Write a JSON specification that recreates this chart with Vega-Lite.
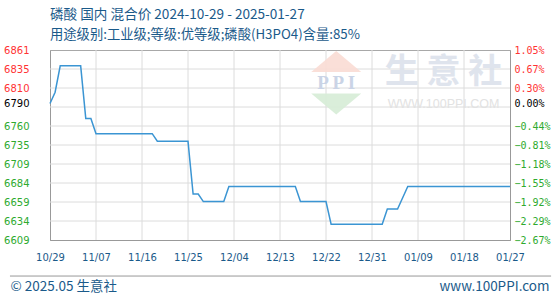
{
  "$schema": "https://vega.github.io/schema/vega-lite/v6.json",
  "width": 460,
  "height": 190,
  "autosize": {"type": "none"},
  "padding": {"left": 50, "top": 50, "right": 50, "bottom": 60},
  "background": "#ffffff",
  "title": {
    "text": "磷酸 国内 混合价 2024-10-29 - 2025-01-27",
    "subtitle": "用途级别:工业级;等级:优等级;磷酸(H3PO4)含量:85%",
    "anchor": "start",
    "frame": "group",
    "font": "Noto Sans CJK SC",
    "fontSize": 13.6,
    "fontWeight": "normal",
    "color": "#1a5a8a",
    "subtitleFont": "Noto Sans CJK SC",
    "subtitleFontSize": 13.3,
    "subtitleColor": "#1a5a8a",
    "subtitlePadding": 6,
    "offset": 4
  },
  "config": {
    "view": {"stroke": "#a8a8a8", "strokeWidth": 1},
    "axis": {
      "grid": false,
      "domainColor": "#999999",
      "ticks": false,
      "tickSize": 0
    },
    "axisX": {
      "ticks": false,
      "tickSize": 0,
      "labelFont": "DejaVu Sans",
      "labelFontSize": 10,
      "labelColor": "#1a5a8a",
      "labelPadding": 12,
      "labelFlush": false,
      "labelOverlap": false,
      "format": "%m/%d",
      "formatType": "utc"
    },
    "axisLeft": {"ticks": false, "tickSize": 0},
    "axisRight": {"grid": false, "ticks": false, "tickSize": 0}
  },
  "datasets": {
    "gridY": [
      {"v": 6634.2}, {"v": 6659.4}, {"v": 6684.6}, {"v": 6709.8}, {"v": 6735},
      {"v": 6760.2}, {"v": 6785.4}, {"v": 6810.6}, {"v": 6835.8}
    ],
    "gridX": [
      {"d": "2024-11-07"}, {"d": "2024-11-16"}, {"d": "2024-11-25"}, {"d": "2024-12-04"},
      {"d": "2024-12-13"}, {"d": "2024-12-22"}, {"d": "2024-12-31"}, {"d": "2025-01-09"},
      {"d": "2025-01-18"}
    ],
    "price": [
      {"date": "2024-10-29", "price": 6790},
      {"date": "2024-10-30", "price": 6805},
      {"date": "2024-10-31", "price": 6840},
      {"date": "2024-11-01", "price": 6840},
      {"date": "2024-11-02", "price": 6840},
      {"date": "2024-11-03", "price": 6840},
      {"date": "2024-11-04", "price": 6840},
      {"date": "2024-11-05", "price": 6770},
      {"date": "2024-11-06", "price": 6770},
      {"date": "2024-11-07", "price": 6750},
      {"date": "2024-11-08", "price": 6750},
      {"date": "2024-11-09", "price": 6750},
      {"date": "2024-11-10", "price": 6750},
      {"date": "2024-11-11", "price": 6750},
      {"date": "2024-11-12", "price": 6750},
      {"date": "2024-11-13", "price": 6750},
      {"date": "2024-11-14", "price": 6750},
      {"date": "2024-11-15", "price": 6750},
      {"date": "2024-11-16", "price": 6750},
      {"date": "2024-11-17", "price": 6750},
      {"date": "2024-11-18", "price": 6750},
      {"date": "2024-11-19", "price": 6740},
      {"date": "2024-11-20", "price": 6740},
      {"date": "2024-11-21", "price": 6740},
      {"date": "2024-11-22", "price": 6740},
      {"date": "2024-11-23", "price": 6740},
      {"date": "2024-11-24", "price": 6740},
      {"date": "2024-11-25", "price": 6740},
      {"date": "2024-11-26", "price": 6670},
      {"date": "2024-11-27", "price": 6670},
      {"date": "2024-11-28", "price": 6660},
      {"date": "2024-11-29", "price": 6660},
      {"date": "2024-11-30", "price": 6660},
      {"date": "2024-12-01", "price": 6660},
      {"date": "2024-12-02", "price": 6660},
      {"date": "2024-12-03", "price": 6680},
      {"date": "2024-12-04", "price": 6680},
      {"date": "2024-12-05", "price": 6680},
      {"date": "2024-12-06", "price": 6680},
      {"date": "2024-12-07", "price": 6680},
      {"date": "2024-12-08", "price": 6680},
      {"date": "2024-12-09", "price": 6680},
      {"date": "2024-12-10", "price": 6680},
      {"date": "2024-12-11", "price": 6680},
      {"date": "2024-12-12", "price": 6680},
      {"date": "2024-12-13", "price": 6680},
      {"date": "2024-12-14", "price": 6680},
      {"date": "2024-12-15", "price": 6680},
      {"date": "2024-12-16", "price": 6680},
      {"date": "2024-12-17", "price": 6660},
      {"date": "2024-12-18", "price": 6660},
      {"date": "2024-12-19", "price": 6660},
      {"date": "2024-12-20", "price": 6660},
      {"date": "2024-12-21", "price": 6660},
      {"date": "2024-12-22", "price": 6660},
      {"date": "2024-12-23", "price": 6630},
      {"date": "2024-12-24", "price": 6630},
      {"date": "2024-12-25", "price": 6630},
      {"date": "2024-12-26", "price": 6630},
      {"date": "2024-12-27", "price": 6630},
      {"date": "2024-12-28", "price": 6630},
      {"date": "2024-12-29", "price": 6630},
      {"date": "2024-12-30", "price": 6630},
      {"date": "2024-12-31", "price": 6630},
      {"date": "2025-01-01", "price": 6630},
      {"date": "2025-01-02", "price": 6630},
      {"date": "2025-01-03", "price": 6650},
      {"date": "2025-01-04", "price": 6650},
      {"date": "2025-01-05", "price": 6650},
      {"date": "2025-01-06", "price": 6665},
      {"date": "2025-01-07", "price": 6680},
      {"date": "2025-01-08", "price": 6680},
      {"date": "2025-01-09", "price": 6680},
      {"date": "2025-01-10", "price": 6680},
      {"date": "2025-01-11", "price": 6680},
      {"date": "2025-01-12", "price": 6680},
      {"date": "2025-01-13", "price": 6680},
      {"date": "2025-01-14", "price": 6680},
      {"date": "2025-01-15", "price": 6680},
      {"date": "2025-01-16", "price": 6680},
      {"date": "2025-01-17", "price": 6680},
      {"date": "2025-01-18", "price": 6680},
      {"date": "2025-01-19", "price": 6680},
      {"date": "2025-01-20", "price": 6680},
      {"date": "2025-01-21", "price": 6680},
      {"date": "2025-01-22", "price": 6680},
      {"date": "2025-01-23", "price": 6680},
      {"date": "2025-01-24", "price": 6680},
      {"date": "2025-01-25", "price": 6680},
      {"date": "2025-01-26", "price": 6680},
      {"date": "2025-01-27", "price": 6680}
    ]
  },
  "layer": [
    {
      "data": {"name": "gridY"},
      "mark": {"type": "rule", "color": "#dcdcdc", "strokeWidth": 1},
      "encoding": {
        "y": {"field": "v", "type": "quantitative", "scale": {"domain": [6609, 6861], "nice": false, "zero": false}, "axis": null}
      }
    },
    {
      "data": {"name": "gridX"},
      "mark": {"type": "rule", "color": "#dcdcdc", "strokeWidth": 1},
      "encoding": {
        "x": {"field": "d", "type": "temporal", "scale": {"type": "utc"}, "axis": null}
      }
    },
    {
      "data": {"values": [{}]},
      "mark": {"type": "rule", "color": "#999999", "strokeWidth": 1},
      "encoding": {
        "x": {"datum": {"year": 2024, "month": 10, "date": 21, "hours": 4, "utc": true}, "type": "temporal", "scale": {"type": "utc"}, "axis": null},
        "x2": {"datum": {"year": 2025, "month": 2, "date": 4, "hours": 1, "utc": true}},
        "y": {"datum": 6561.2, "type": "quantitative", "scale": {"domain": [6609, 6861], "nice": false, "zero": false}, "axis": null}
      }
    },
    {
      "data": {"values": [{}]},
      "mark": {"type": "point", "shape": "M-1,0.42L0,-0.42L1,0.42Z", "filled": true, "size": 2500, "color": "#f9dcd4", "strokeWidth": 0, "opacity": 0.9},
      "encoding": {
        "x": {"datum": {"year": 2024, "month": 12, "date": 24, "utc": true}, "type": "temporal", "scale": {"type": "utc"}, "axis": null},
        "y": {"datum": 6845.7, "type": "quantitative", "scale": {"domain": [6609, 6861], "nice": false, "zero": false}, "axis": null}
      }
    },
    {
      "data": {"values": [{}]},
      "mark": {"type": "point", "shape": "M-1,-0.42L0,0.42L1,-0.42Z", "filled": true, "size": 2500, "color": "#d6ecd6", "strokeWidth": 0, "opacity": 0.9},
      "encoding": {
        "x": {"datum": {"year": 2024, "month": 12, "date": 24, "utc": true}, "type": "temporal", "scale": {"type": "utc"}, "axis": null},
        "y": {"datum": 6789.4, "type": "quantitative", "scale": {"domain": [6609, 6861], "nice": false, "zero": false}, "axis": null}
      }
    },
    {
      "data": {"values": [{}]},
      "mark": {"type": "text", "text": "P P I", "font": "Liberation Serif", "fontWeight": "bold", "fontSize": 19, "color": "#cad4e6", "align": "center", "baseline": "middle"},
      "encoding": {
        "x": {"datum": {"year": 2024, "month": 12, "date": 24, "utc": true}, "type": "temporal", "scale": {"type": "utc"}, "axis": null},
        "y": {"datum": 6817.2, "type": "quantitative", "scale": {"domain": [6609, 6861], "nice": false, "zero": false}, "axis": null}
      }
    },
    {
      "data": {"values": [{}]},
      "mark": {"type": "text", "text": "生 意 社", "font": "Noto Sans CJK SC", "fontWeight": "bold", "fontSize": 34, "color": "#dce2ec", "align": "center", "baseline": "middle", "opacity": 0.9},
      "encoding": {
        "x": {"datum": {"year": 2025, "month": 1, "date": 14, "utc": true}, "type": "temporal", "scale": {"type": "utc"}, "axis": null},
        "y": {"datum": 6830.5, "type": "quantitative", "scale": {"domain": [6609, 6861], "nice": false, "zero": false}, "axis": null}
      }
    },
    {
      "data": {"values": [{}]},
      "mark": {"type": "text", "text": "WWW.100PPI.COM", "font": "Liberation Sans", "fontSize": 12.5, "color": "#e2e2e2", "align": "center", "baseline": "middle"},
      "encoding": {
        "x": {"datum": {"year": 2025, "month": 1, "date": 14, "utc": true}, "type": "temporal", "scale": {"type": "utc"}, "axis": null},
        "y": {"datum": 6789.4, "type": "quantitative", "scale": {"domain": [6609, 6861], "nice": false, "zero": false}, "axis": null}
      }
    },
    {
      "data": {"name": "price"},
      "mark": {"type": "line", "color": "#3b95d3", "strokeWidth": 1.5, "interpolate": "linear"},
      "encoding": {
        "x": {
          "field": "date",
          "type": "temporal",
          "scale": {
            "type": "utc",
            "domain": [
              {"year": 2024, "month": 10, "date": 29, "utc": true},
              {"year": 2025, "month": 1, "date": 27, "utc": true}
            ]
          },
          "axis": {
            "title": "",
            "values": [
              {"year": 2024, "month": 10, "date": 29, "utc": true},
              {"year": 2024, "month": 11, "date": 7, "utc": true},
              {"year": 2024, "month": 11, "date": 16, "utc": true},
              {"year": 2024, "month": 11, "date": 25, "utc": true},
              {"year": 2024, "month": 12, "date": 4, "utc": true},
              {"year": 2024, "month": 12, "date": 13, "utc": true},
              {"year": 2024, "month": 12, "date": 22, "utc": true},
              {"year": 2024, "month": 12, "date": 31, "utc": true},
              {"year": 2025, "month": 1, "date": 9, "utc": true},
              {"year": 2025, "month": 1, "date": 18, "utc": true},
              {"year": 2025, "month": 1, "date": 27, "utc": true}
            ],
            "labelExpr": "utcFormat(datum.value, '%m/%d')",
            "labelFont": "DejaVu Sans",
            "labelFontSize": 10,
            "labelColor": "#1a5a8a",
            "labelPadding": 12,
            "labelFlush": false,
            "labelOverlap": false,
            "ticks": false,
            "tickSize": 0
          }
        },
        "y": {
          "field": "price",
          "type": "quantitative",
          "scale": {"domain": [6609, 6861], "nice": false, "zero": false},
          "axis": {
            "values": [6609, 6634.2, 6659.4, 6684.6, 6709.8, 6735, 6760.2, 6785.4, 6790, 6810.6, 6835.8, 6861],
            "labelExpr": "abs(datum.value - 6785.4) < 0.01 ? '' : '' + floor(datum.value)",
            "labelFont": "DejaVu Sans",
            "labelFontSize": 10,
            "labelPadding": 21,
            "labelOverlap": false,
            "labelFlush": false,
            "ticks": false,
            "tickSize": 0,
            "labelColor": {
              "condition": [
                {"test": "datum.value > 6790", "value": "#ff3333"},
                {"test": "datum.value == 6790", "value": "#000000"}
              ],
              "value": "#2eaa2e"
            },
            "title": "© 2025.05 生意社",
            "titleAngle": 0,
            "titleAlign": "left",
            "titleBaseline": "middle",
            "titleX": -40,
            "titleY": 236,
            "titleFont": "Noto Sans CJK SC",
            "titleFontSize": 13.5,
            "titleFontWeight": "normal",
            "titleColor": "#1a5a8a"
          }
        }
      }
    },
    {
      "mark": {"type": "rule", "color": "#999999", "strokeWidth": 1},
      "encoding": {
        "y": {
          "datum": 6790,
          "type": "quantitative",
          "scale": {"domain": [6609, 6861], "nice": false, "zero": false},
          "axis": {
            "orient": "right",
            "values": [6609, 6634.2, 6659.4, 6684.6, 6709.8, 6735, 6760.2, 6785.4, 6790, 6810.6, 6835.8, 6861],
            "labelExpr": "abs(datum.value - 6785.4) < 0.01 ? '' : format((datum.value - 6790) / 6790 * 100, '.2f') + '%'",
            "labelFont": "DejaVu Sans Mono",
            "labelFontSize": 10,
            "labelPadding": 4,
            "labelOverlap": false,
            "labelFlush": false,
            "ticks": false,
            "tickSize": 0,
            "labelColor": {
              "condition": [
                {"test": "datum.value > 6790", "value": "#ff3333"},
                {"test": "datum.value == 6790", "value": "#000000"}
              ],
              "value": "#2eaa2e"
            },
            "grid": false,
            "title": "www.100PPI.com",
            "titleAngle": 0,
            "titleAlign": "right",
            "titleBaseline": "middle",
            "titleX": 39,
            "titleY": 236,
            "titleFont": "Noto Sans CJK SC",
            "titleFontSize": 13.5,
            "titleFontWeight": "normal",
            "titleColor": "#1a5a8a"
          }
        }
      }
    }
  ],
  "resolve": {"scale": {"y": "independent"}, "axis": {"x": "independent"}}
}
